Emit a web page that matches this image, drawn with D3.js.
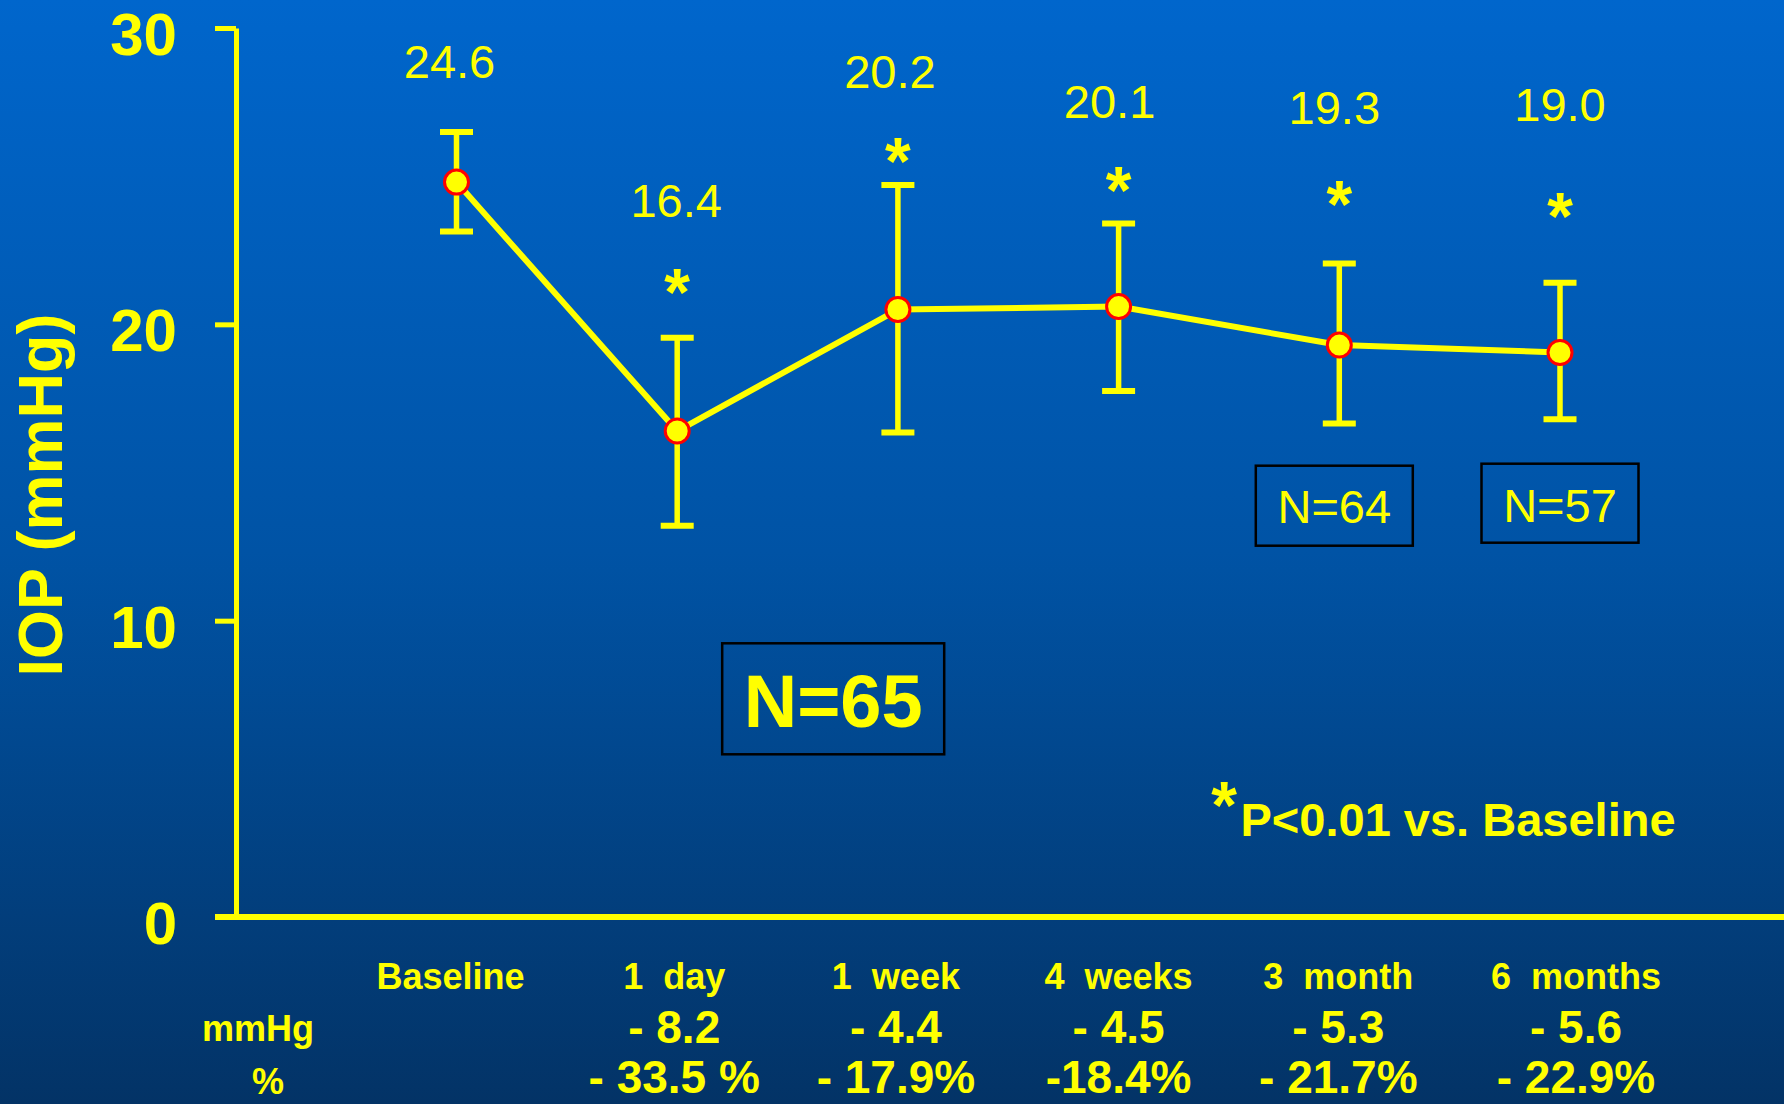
<!DOCTYPE html>
<html>
<head>
<meta charset="utf-8">
<script src="https://cdn.jsdelivr.net/npm/d3@7"></script>
<style>
  html, body { margin: 0; padding: 0; background: #003366; }
  svg { display: block; }
  text { font-family: "Liberation Sans", Arial, Helvetica, sans-serif; }
</style>
</head>
<body>
<script>
// ---------- DATA ----------
const categories = ["Baseline", "1  day", "1  week", "4  weeks", "3  month", "6  months"];
const iopMean    = [24.8, 16.4, 20.5, 20.6, 19.3, 19.05];
const errLow     = [23.13, 13.2, 16.35, 17.75, 16.65, 16.8];
const errHigh    = [26.49, 19.55, 24.7, 23.4, 22.05, 21.4];
const meanLabels = ["24.6", "16.4", "20.2", "20.1", "19.3", "19.0"];
const significant = [false, true, true, true, true, true];
const changeMmHg = ["", "- 8.2", "- 4.4", "- 4.5", "- 5.3", "- 5.6"];
const changePct  = ["", "- 33.5 %", "- 17.9%", "-18.4%", "- 21.7%", "- 22.9%"];
const yTicks     = [0, 10, 20, 30];
const sampleBoxes = [
  { text: "N=65", cat: "1  day" },
  { text: "N=64", cat: "3  month" },
  { text: "N=57", cat: "6  months" }
];
const yTitle = "IOP (mmHg)";
const footnote = "P<0.01 vs. Baseline";

// ---------- LAYOUT (annotation placement, in data units / pixels) ----------
const labelLevel    = [28.32, 23.63, 27.99, 26.96, 26.75, 26.87]; // baselines of mean labels (IOP units)
const labelShift    = [-7, -1, -8, -9, -5, 0];
const asteriskLevel = [null, 21.43, 25.84, 24.86, 24.39, 23.99];   // glyph centres (IOP units)
const colShift      = [-6, -3, -2, 0, -1, 16];
const boxLayout = [
  { dx: 156, cy: 698.8, w: 222, h: 111, size: 74, weight: "bold",   base: 727 },
  { dx: -5,  cy: 505.7, w: 157, h: 80,  size: 47, weight: "normal", base: 523.3 },
  { dx: 0,   cy: 503.2, w: 157, h: 79,  size: 47, weight: "normal", base: 522.3 }
];

const W = 1784, H = 1104;
const YELLOW = "#FFFF00", RED = "#FF0000";
const axisX = 236, tickLen = 21;

const svg = d3.select("body").append("svg").attr("width", W).attr("height", H);

// background gradient
const defs = svg.append("defs");
const grad = defs.append("linearGradient").attr("id", "bg").attr("x1", 0).attr("y1", 0).attr("x2", 0).attr("y2", 1);
grad.append("stop").attr("offset", "0%").attr("stop-color", "#0066CC");
grad.append("stop").attr("offset", "50%").attr("stop-color", "#0053A5");
grad.append("stop").attr("offset", "100%").attr("stop-color", "#033366");
svg.append("rect").attr("width", W).attr("height", H).attr("fill", "url(#bg)");

// scales
const y = d3.scaleLinear().domain([0, 30]).range([917, 28]);
const x = d3.scalePoint().domain(categories).range([456.5, 1560]);

// y axis
const yAxis = d3.axisLeft(y).tickValues(yTicks).tickSize(tickLen).tickSizeOuter(0).tickPadding(38);
const gy = svg.append("g").attr("transform", `translate(${axisX},0)`).call(yAxis);
gy.select(".domain").attr("stroke", YELLOW).attr("stroke-width", 5);
gy.selectAll(".tick line").attr("stroke", YELLOW).attr("stroke-width", 5);
gy.selectAll(".tick text")
  .attr("fill", YELLOW).attr("font-size", 60).attr("font-weight", "bold")
  .attr("dy", "0.44em")
  .style("font-family", '"Liberation Sans", Arial, sans-serif');

// x axis baseline
svg.append("line")
  .attr("x1", axisX - tickLen).attr("x2", W)
  .attr("y1", y(0)).attr("y2", y(0))
  .attr("stroke", YELLOW).attr("stroke-width", 6);

// y axis title
svg.append("text")
  .attr("transform", `translate(62,495) rotate(-90)`)
  .attr("text-anchor", "middle")
  .attr("fill", YELLOW).attr("font-size", 63).attr("font-weight", "bold")
  .text(yTitle);

// error bars
const capW = 33;
const eb = svg.append("g").selectAll("g").data(categories).join("g");
eb.append("line")
  .attr("x1", (d) => x(d)).attr("x2", (d) => x(d))
  .attr("y1", (d, i) => y(errLow[i])).attr("y2", (d, i) => y(errHigh[i]))
  .attr("stroke", YELLOW).attr("stroke-width", 5.5);
eb.append("line")
  .attr("x1", (d) => x(d) - capW / 2).attr("x2", (d) => x(d) + capW / 2)
  .attr("y1", (d, i) => y(errHigh[i])).attr("y2", (d, i) => y(errHigh[i]))
  .attr("stroke", YELLOW).attr("stroke-width", 6);
eb.append("line")
  .attr("x1", (d) => x(d) - capW / 2).attr("x2", (d) => x(d) + capW / 2)
  .attr("y1", (d, i) => y(errLow[i])).attr("y2", (d, i) => y(errLow[i]))
  .attr("stroke", YELLOW).attr("stroke-width", 6);

// line
const line = d3.line().x((d) => x(d)).y((d, i) => y(iopMean[i]));
svg.append("path").datum(categories)
  .attr("d", line).attr("fill", "none")
  .attr("stroke", YELLOW).attr("stroke-width", 6).attr("stroke-linejoin", "round");

// markers
svg.append("g").selectAll("circle").data(categories).join("circle")
  .attr("cx", (d) => x(d)).attr("cy", (d, i) => y(iopMean[i]))
  .attr("r", 12).attr("fill", YELLOW).attr("stroke", RED).attr("stroke-width", 3);

// mean labels
svg.append("g").selectAll("text").data(categories).join("text")
  .attr("x", (d, i) => x(d) + labelShift[i]).attr("y", (d, i) => y(labelLevel[i]))
  .attr("text-anchor", "middle").attr("fill", YELLOW).attr("font-size", 47)
  .text((d, i) => meanLabels[i]);

// significance asterisks
const astSize = 66;
svg.append("g").selectAll("text").data(categories.filter((d, i) => significant[i])).join("text")
  .attr("x", (d) => x(d))
  .attr("y", (d) => { const i = categories.indexOf(d); return y(asteriskLevel[i]) + 0.5 * astSize; })
  .attr("text-anchor", "middle").attr("fill", YELLOW).attr("font-size", astSize).attr("font-weight", "bold")
  .text("*");

// sample size boxes
sampleBoxes.forEach((b, k) => {
  const L = boxLayout[k];
  const cx = x(b.cat) + L.dx;
  svg.append("rect")
    .attr("x", cx - L.w / 2).attr("y", L.cy - L.h / 2)
    .attr("width", L.w).attr("height", L.h)
    .attr("fill", "none").attr("stroke", "#000000").attr("stroke-width", 2.5);
  svg.append("text")
    .attr("x", cx).attr("y", L.base)
    .attr("text-anchor", "middle").attr("fill", YELLOW)
    .attr("font-size", L.size).attr("font-weight", L.weight)
    .text(b.text);
});

// footnote
svg.append("text")
  .attr("x", 1224).attr("y", 794.7 + 0.5 * astSize)
  .attr("text-anchor", "middle").attr("fill", YELLOW)
  .attr("font-size", astSize).attr("font-weight", "bold").text("*");
svg.append("text")
  .attr("x", 1240.5).attr("y", 836)
  .attr("fill", YELLOW).attr("font-size", 47).attr("font-weight", "bold")
  .text(footnote);

// category labels and change rows
const rows = svg.append("g");
rows.selectAll("text.cat").data(categories).join("text").attr("class", "cat")
  .attr("x", (d, i) => x(d) + colShift[i]).attr("y", 989)
  .attr("text-anchor", "middle").attr("fill", YELLOW)
  .attr("font-size", 36).attr("font-weight", "bold")
  .style("white-space", "pre").text((d) => d);
rows.selectAll("text.mm").data(categories).join("text").attr("class", "mm")
  .attr("x", (d, i) => x(d) + colShift[i]).attr("y", 1043)
  .attr("text-anchor", "middle").attr("fill", YELLOW)
  .attr("font-size", 46).attr("font-weight", "bold")
  .style("white-space", "pre").text((d, i) => changeMmHg[i]);
rows.selectAll("text.pct").data(categories).join("text").attr("class", "pct")
  .attr("x", (d, i) => x(d) + colShift[i]).attr("y", 1093)
  .attr("text-anchor", "middle").attr("fill", YELLOW)
  .attr("font-size", 46).attr("font-weight", "bold")
  .style("white-space", "pre").text((d, i) => changePct[i]);
rows.append("text").attr("x", 258).attr("y", 1041)
  .attr("text-anchor", "middle").attr("fill", YELLOW)
  .attr("font-size", 36).attr("font-weight", "bold").text("mmHg");
rows.append("text").attr("x", 268).attr("y", 1094)
  .attr("text-anchor", "middle").attr("fill", YELLOW)
  .attr("font-size", 36).attr("font-weight", "bold").text("%");
</script>
</body>
</html>
